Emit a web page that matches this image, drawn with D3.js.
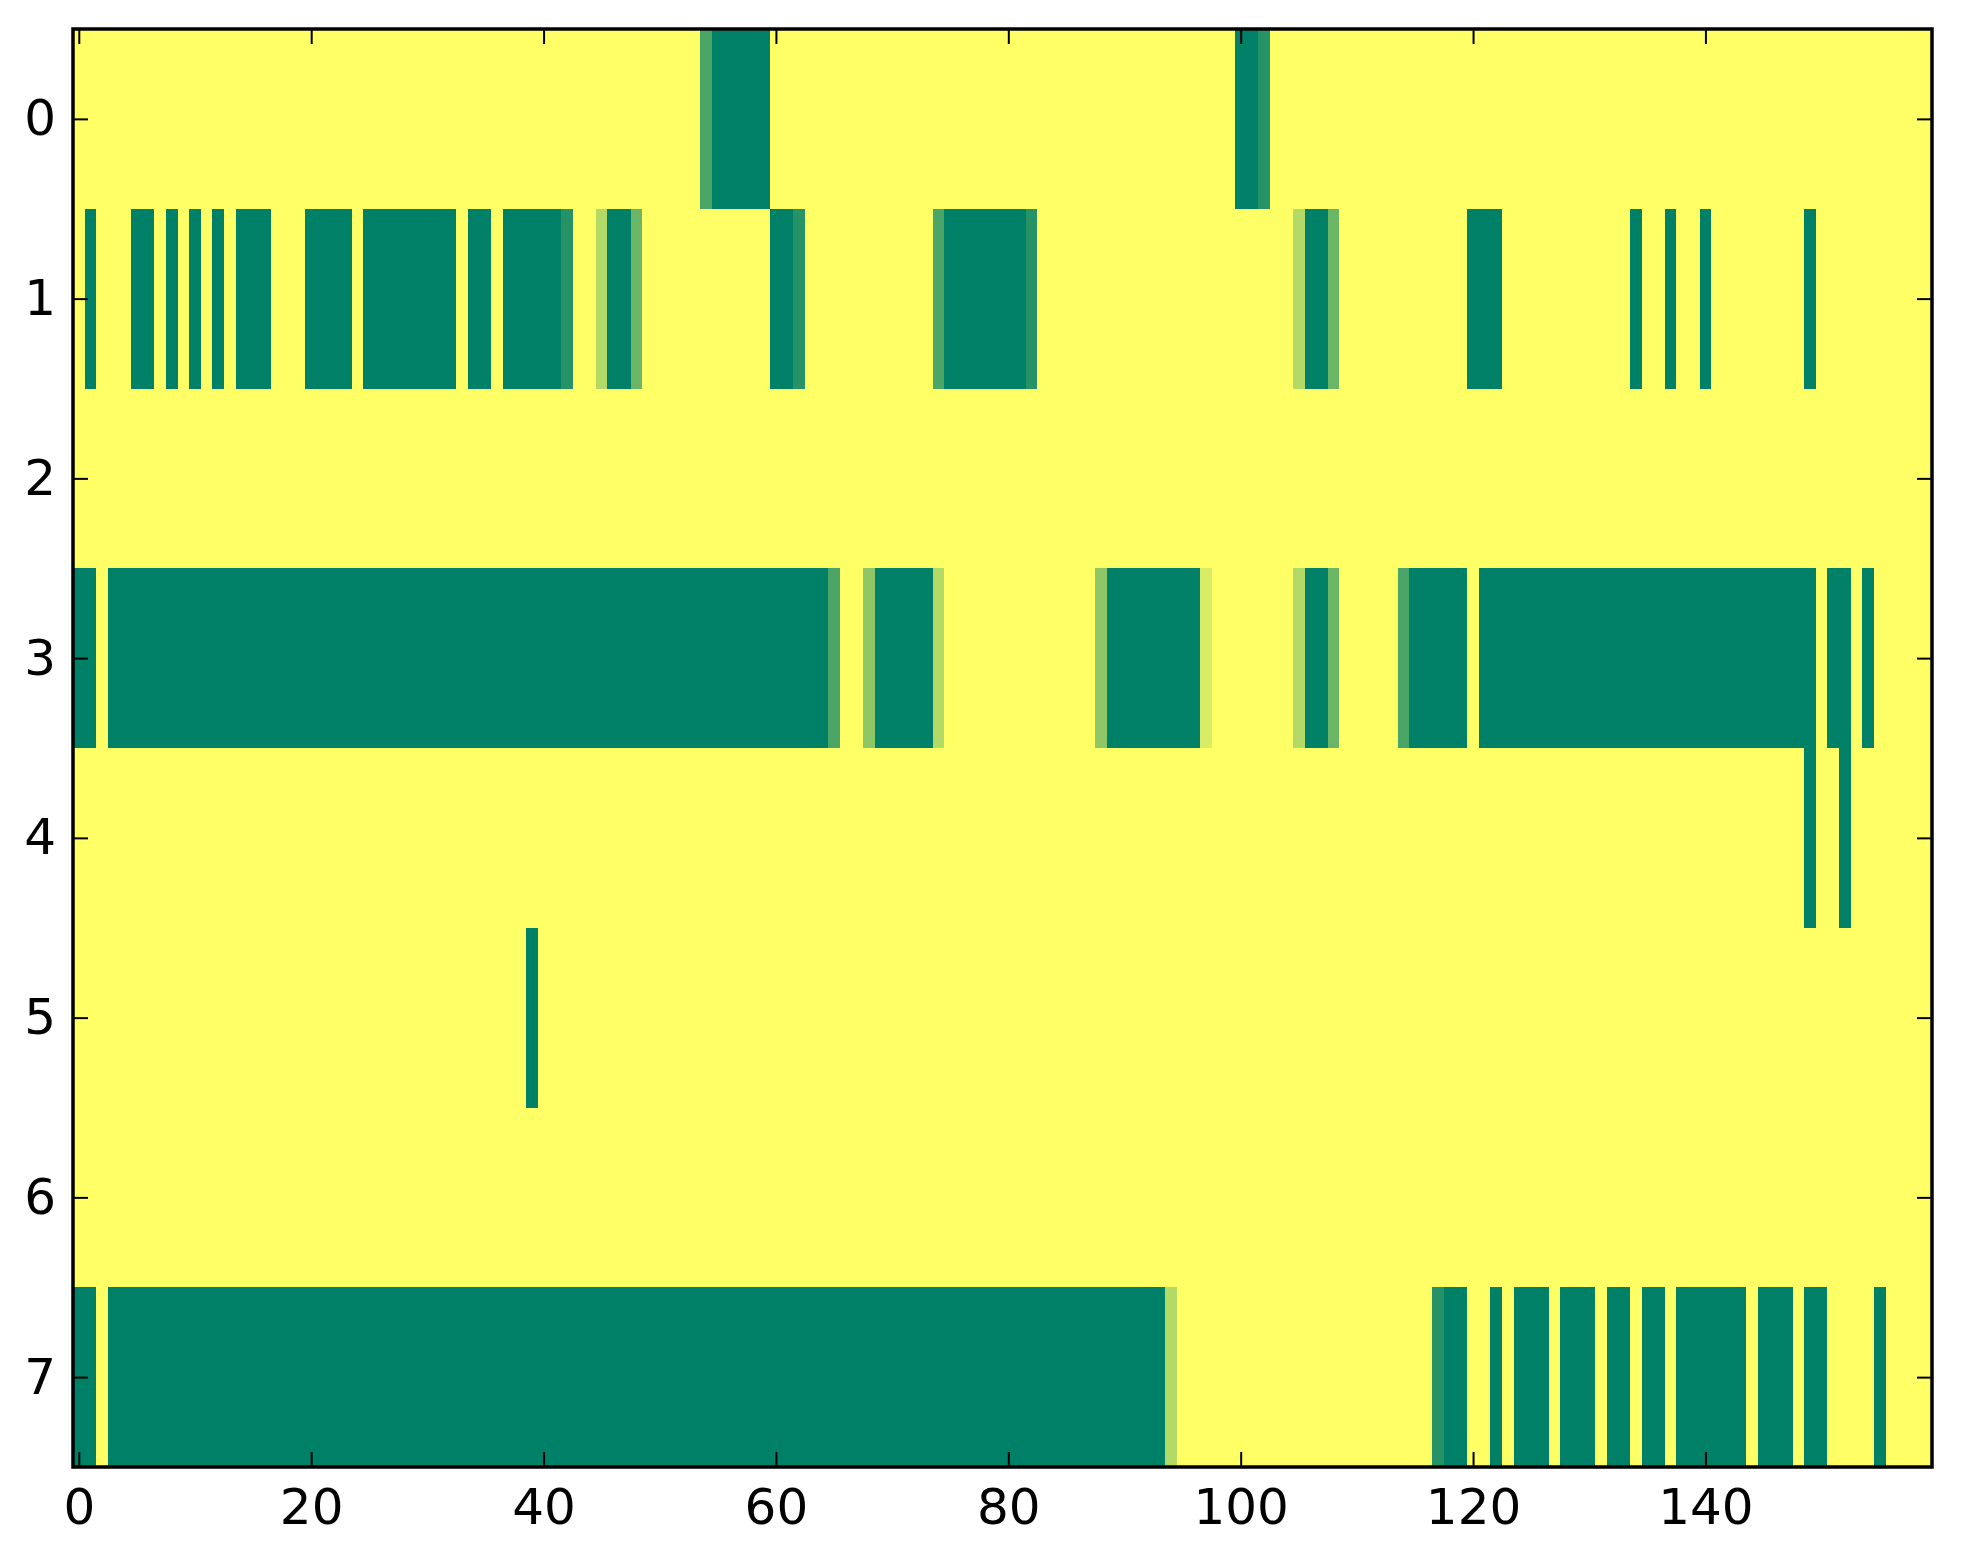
<!doctype html>
<html>

<head>
    <meta charset="utf-8">
    <title>Heatmap</title>
    <script type="text/javascript" src="https://cdn.jsdelivr.net/npm/d3@7"></script>
    <style type="text/css">
        html,
        body {
            margin: 0;
            padding: 0;
            background: #fff;
        }

        #chart svg {
            display: block;
        }

        .tick text {
            font-family: "DejaVu Sans", sans-serif;
            font-size: 50px;
            fill: #000;
        }
    </style>
</head>

<body>
    <div id="chart"></div>

    <script type="text/javascript">
        // each row: runs of [firstColumn, lastColumn, value], everything else is 0
        var nCols = 160
        var row0 = [[54, 54, 0.71], [55, 59, 1], [100, 101, 1], [102, 102, 0.85]]
        var row1 = [[1, 1, 1], [5, 6, 1], [8, 8, 1], [10, 10, 1], [12, 12, 1], [14, 16, 1],
            [20, 23, 1], [25, 32, 1], [34, 35, 1], [37, 41, 1], [42, 42, 0.85],
            [45, 45, 0.30], [46, 47, 1], [48, 48, 0.58], [60, 61, 1], [62, 62, 0.85],
            [74, 74, 0.71], [75, 81, 1], [82, 82, 0.85], [105, 105, 0.30], [106, 107, 1],
            [108, 108, 0.58], [120, 122, 1], [134, 134, 1], [137, 137, 1], [140, 140, 1],
            [149, 149, 1]]
        var row2 = []
        var row3 = [[0, 1, 1], [3, 64, 1], [65, 65, 0.71], [68, 68, 0.44], [69, 73, 1],
            [74, 74, 0.30], [88, 88, 0.44], [89, 96, 1], [97, 97, 0.15], [105, 105, 0.30],
            [106, 107, 1], [108, 108, 0.58], [114, 114, 0.71], [115, 119, 1], [121, 149, 1],
            [151, 152, 1], [154, 154, 1]]
        var row4 = [[149, 149, 1], [152, 152, 1]]
        var row5 = [[39, 39, 1]]
        var row6 = []
        var row7 = [[0, 1, 1], [3, 93, 1], [94, 94, 0.30], [117, 117, 0.85], [118, 119, 1],
            [122, 122, 1], [124, 126, 1], [128, 130, 1], [132, 133, 1], [135, 136, 1],
            [138, 143, 1], [145, 147, 1], [149, 150, 1], [155, 155, 1]]
        var rows = [row0, row1, row2, row3, row4, row5, row6, row7]

        var xTicks = [0, 20, 40, 60, 80, 100, 120, 140]
        var yTicks = [0, 1, 2, 3, 4, 5, 6, 7]

        // build the cell table from the runs
        var cells = []
        rows.forEach(function (runs, r) {
            var line = new Array(nCols).fill(0)
            runs.forEach(function (run) {
                for (var c = run[0]; c <= run[1]; c++) line[c] = run[2]
            })
            line.forEach(function (v, c) {
                cells.push({ row: r, col: c, value: v })
            })
        })

        var W = 1963, H = 1564
        var m = { left: 73, right: 1932, top: 29, bottom: 1467 }

        var x = d3.scaleLinear().domain([-0.5, nCols - 0.5]).range([m.left, m.right])
        var y = d3.scaleLinear().domain([-0.5, rows.length - 0.5]).range([m.top, m.bottom])
        // summer_r colormap
        var color = d3.scaleLinear().domain([0, 1])
            .range(["#ffff66", "#008066"]).interpolate(d3.interpolateRgb)

        var svg = d3.select("#chart")
            .append("svg")
            .attr("width", W)
            .attr("height", H)

        svg.append("g")
            .attr("shape-rendering", "crispEdges")
            .selectAll("rect")
            .data(cells)
            .join("rect")
            .attr("x", function (d) { return x(d.col - 0.5) })
            .attr("y", function (d) { return y(d.row - 0.5) })
            .attr("width", function (d) { return x(d.col + 0.5) - x(d.col - 0.5) + 0.5 })
            .attr("height", function (d) { return y(d.row + 0.5) - y(d.row - 0.5) + 0.5 })
            .style("fill", function (d) { return color(d.value) })

        // ticks point inward on all four sides
        var tick = 15
        function style(g) {
            g.select(".domain").remove()
            g.selectAll(".tick line").attr("stroke", "#000").attr("stroke-width", 2)
        }

        svg.append("g")
            .attr("transform", "translate(0," + m.bottom + ")")
            .call(d3.axisBottom(x).tickValues(xTicks).tickSize(-tick).tickPadding(21))
            .call(style)

        svg.append("g")
            .attr("transform", "translate(0," + m.top + ")")
            .call(d3.axisTop(x).tickValues(xTicks).tickSize(-tick).tickFormat(""))
            .call(style)

        svg.append("g")
            .attr("transform", "translate(" + m.left + ",0)")
            .call(d3.axisLeft(y).tickValues(yTicks).tickSize(-tick).tickPadding(17))
            .call(style)

        svg.append("g")
            .attr("transform", "translate(" + m.right + ",0)")
            .call(d3.axisRight(y).tickValues(yTicks).tickSize(-tick).tickFormat(""))
            .call(style)

        svg.selectAll("g[font-size]").attr("font-size", null).attr("font-family", null)

        // frame
        svg.append("rect")
            .attr("x", m.left)
            .attr("y", m.top)
            .attr("width", m.right - m.left)
            .attr("height", m.bottom - m.top)
            .style("fill", "none")
            .style("stroke", "#000")
            .style("stroke-width", 3.5)
    </script>
</body>

</html>
